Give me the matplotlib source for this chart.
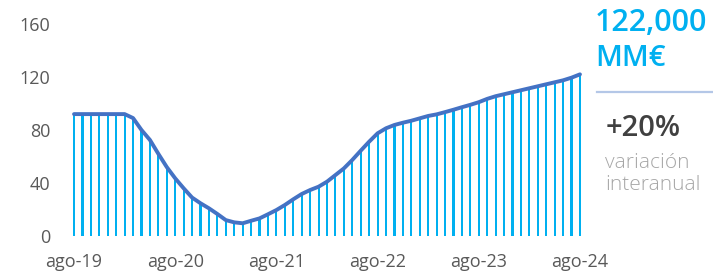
import numpy as np
import matplotlib.pyplot as plt

# monthly series, ago-19 .. ago-24 (thousand MM€)
values = [92, 92, 92, 92, 92, 92, 92, 89, 80, 72.5,
          62, 52, 43.5, 36, 29, 24.7, 20.9, 16.6, 12, 10.3,
          9.6, 11.5, 13.3, 16.4, 19.6, 23.4, 27.7, 31.7, 34.7, 37.2,
          41, 46, 51, 57.4, 64.4, 71.2, 77.5, 81.3, 83.8, 85.5,
          87, 88.8, 90.6, 91.8, 93.5, 95.3, 97.2, 99, 101, 103.5,
          105.5, 107, 108.5, 110, 111.5, 113, 114.5, 116, 117.5, 119.5,
          122]
tick_labels = ["ago-19", "ago-20", "ago-21", "ago-22", "ago-23", "ago-24"]
y_ticks = [0, 40, 80, 120, 160]

total_text = "122,000"
unit_text = "MM€"
change_text = "+20%"
change_label = "variación\ninteranual"

plt.rcParams['font.family'] = ['Open Sans', 'DejaVu Sans']

fig = plt.figure(figsize=(7.13, 2.75), dpi=100)
ax = fig.add_axes([65.6 / 713, 39 / 275, 522.8 / 713, 212 / 275])

x = np.arange(len(values))
ax.bar(x, values, width=0.25, color="#00B0F0", zorder=2)
ax.plot(x, values, color="#4472C4", lw=2.8, solid_capstyle="round",
        solid_joinstyle="round", zorder=3)

ax.set_xlim(-1, len(values))
ax.set_ylim(0, 160)
ax.set_yticks(y_ticks)
ax.set_xticks(x[::12])
ax.set_xticklabels(tick_labels)
ax.tick_params(axis="both", length=0, labelsize=13, labelcolor="#595959")
ax.tick_params(axis="y", pad=11)
ax.tick_params(axis="x", pad=12)
for s in ax.spines.values():
    s.set_visible(False)

# right-hand summary
fig.text(595 / 713, 1 - 23 / 275, total_text, fontsize=22, fontweight="semibold",
         color="#00B0F0", va="center", ha="left")
fig.text(595 / 713, 1 - 58 / 275, unit_text, fontsize=21, fontweight="semibold",
         color="#00B0F0", va="center", ha="left")
fig.add_artist(plt.Line2D([597 / 713, 1], [1 - 91.7 / 275] * 2,
                          color="#B4C7E7", lw=1.6))
fig.text(606 / 713, 1 - 128 / 275, change_text, fontsize=21, fontweight="semibold",
         color="#404040", va="center", ha="left")
fig.text(605 / 713, 1 - 174 / 275, change_label, fontsize=15, fontweight="light",
         color="#A6A6A6", va="center", ha="left", linespacing=1.2)

fig.savefig("out.png", dpi=100)
